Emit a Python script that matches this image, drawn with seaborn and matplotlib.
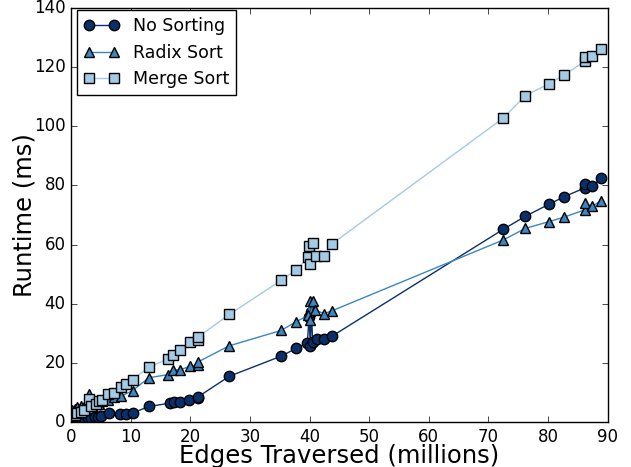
import numpy as np
import pandas as pd
import matplotlib
matplotlib.use("Agg")
import matplotlib.pyplot as plt
import seaborn as sns

# ---------------------------------------------------------------------------
# data (edges in millions, runtime in ms)
# ---------------------------------------------------------------------------
nosort_x = [0.2, 0.6, 1.0, 1.6, 2.2, 2.8, 3.3, 3.9, 4.4, 5.0, 6.3, 8.1, 9.1, 10.3,
            13.0, 16.5, 17.3, 18.3, 19.8, 21.2, 21.3, 26.5, 35.2, 37.7, 39.6, 39.9,
            40.1, 40.3, 40.5, 41.3, 42.4, 43.7, 72.5, 76.2, 80.2, 82.7, 86.2, 86.2,
            87.4, 88.9]
nosort_y = [0.4, 0.6, 0.8, 1.0, 1.2, 1.3, 1.5, 1.6, 1.8, 2.0, 3.0, 2.6, 2.9, 3.1,
            5.3, 6.4, 6.8, 6.8, 7.6, 8.1, 8.6, 15.5, 22.3, 24.9, 26.6, 35.5,
            25.9, 37.2, 27.0, 28.0, 28.1, 29.0, 65.2, 69.6, 73.7, 76.2, 79.2, 80.5,
            79.7, 82.4]

radix_x = [0.2, 0.6, 1.0, 1.6, 2.2, 2.8, 3.0, 3.4, 4.1, 4.7, 5.2, 6.1, 7.2, 8.3,
           10.3, 13.0, 16.3, 17.0, 18.3, 19.9, 21.2, 21.3, 26.5, 35.2, 37.7, 39.8,
           40.0, 40.0, 40.6, 40.9, 42.4, 43.7, 72.5, 76.2, 80.2, 82.7, 86.2, 86.2,
           87.4, 88.9]
radix_y = [4.0, 4.5, 5.0, 5.5, 5.0, 5.8, 9.6, 5.5, 6.0, 6.3, 7.0, 7.5, 8.5, 8.7,
           10.7, 15.0, 16.1, 17.7, 17.7, 18.9, 19.3, 20.4, 25.8, 31.0, 33.9, 36.2,
           40.9, 34.5, 40.9, 37.9, 36.7, 37.6, 61.6, 65.5, 67.8, 69.3, 71.8, 74.0,
           72.9, 74.9]

merge_x = [0.2, 0.6, 1.0, 1.6, 2.2, 2.9, 3.3, 4.1, 4.7, 5.2, 6.1, 7.2, 8.3, 9.2,
           10.3, 13.0, 16.3, 17.0, 18.3, 19.9, 21.2, 21.3, 26.5, 35.2, 37.7, 39.8,
           39.9, 40.0, 40.6, 41.1, 42.4, 43.7, 72.5, 76.2, 80.2, 82.7, 86.2, 86.2,
           87.4, 88.9]
merge_y = [2.0, 2.5, 3.0, 3.5, 4.2, 7.8, 5.5, 6.3, 7.0, 7.6, 9.5, 9.8, 11.8, 12.8,
           14.4, 18.6, 21.4, 22.6, 24.5, 27.0, 27.9, 28.8, 36.4, 47.9, 51.4, 55.7,
           59.6, 53.5, 60.5, 56.3, 56.3, 60.2, 102.8, 110.4, 114.4, 117.4, 122.0, 123.5,
           123.7, 126.0]

series = [
    ("No Sorting", nosort_x, nosort_y, "o", 7.5, "#08306b"),
    ("Radix Sort", radix_x, radix_y, "^", 7.5, "#3a87c2"),
    ("Merge Sort", merge_x, merge_y, "s", 6.5, "#a3cbe5"),
]

# ---------------------------------------------------------------------------
# plot
# ---------------------------------------------------------------------------
plt.style.use("classic")
plt.rcParams["font.family"] = ["DejaVu Sans"]

fig, ax = plt.subplots(figsize=(6.31, 4.67), dpi=100)
fig.patch.set_facecolor("white")
fig.subplots_adjust(left=0.113, right=0.963, bottom=0.096, top=0.983)

for name, xs, ys, mk, ms, col in series:
    df = pd.DataFrame({"x": xs, "y": ys})
    sns.lineplot(data=df, x="x", y="y", ax=ax, sort=False, estimator=None,
                 color=col, marker=mk, markersize=ms, markerfacecolor=col,
                 markeredgecolor="black", markeredgewidth=1.0,
                 linewidth=1.0, label=name)

ax.set_xlim(0, 90)
ax.set_ylim(0, 140)
ax.set_xticks(np.arange(0, 91, 10))
ax.set_yticks(np.arange(0, 141, 20))
ax.tick_params(labelsize=12, direction="in", top=True, right=True)

ax.set_xlabel("Edges Traversed (millions)", fontsize=17.5, labelpad=-1)
ax.set_ylabel("Runtime (ms)", fontsize=17.5, labelpad=-2)

ax.legend(loc="upper left", bbox_to_anchor=(0.011, 0.995), borderaxespad=0,
          fontsize=12.5, numpoints=2, fancybox=False,
          frameon=True, edgecolor="black")

fig.savefig("out.png", dpi=100, facecolor="white")
